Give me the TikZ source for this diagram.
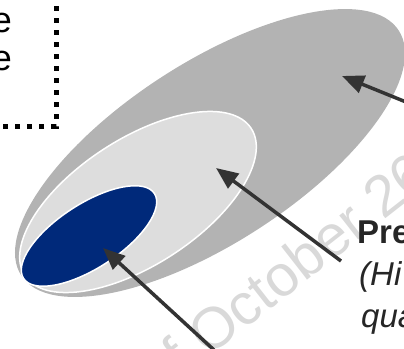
\documentclass[tikz,border=0pt]{standalone}
\usepackage{fontspec}
\setmainfont{Liberation Sans}
\usetikzlibrary{shapes.geometric,arrows.meta}
\definecolor{biggray}{HTML}{B3B3B3}
\definecolor{lightgraytwo}{HTML}{DDDDDD}
\definecolor{navytwo}{HTML}{00297A}
\definecolor{arrowgray}{HTML}{333333}
\definecolor{wmgray}{HTML}{D9D9D9}
\definecolor{textdark}{HTML}{262626}
\begin{document}
\begin{tikzpicture}[x=1pt,y=-1pt,
  ell/.style={ellipse, inner sep=0pt, rotate=33},
  ptr/.style={draw=arrowgray, line width=3.5pt, -{Triangle[length=22pt,width=18pt]}},
  lbl/.style={inner sep=0pt, text=textdark, anchor=base west},
  dotbox/.style={draw=black, line width=5pt, dash pattern=on 5pt off 7pt},
]
\useasboundingbox (0,0) rectangle (404,348);
\clip (0,0) rectangle (404,348);
% ellipses
\node[ell, fill=biggray, minimum width=450pt, minimum height=180pt] (outer) at (210,153) {};
\node[ell, fill=lightgraytwo, draw=white, line width=1.5pt, minimum width=270pt, minimum height=126pt] (middle) at (138,202) {};
\node[ell, fill=navytwo, draw=white, line width=1.5pt, minimum width=156pt, minimum height=64pt] (inner) at (89,236) {};
% watermark
\node[rotate=38, text=wmgray, font=\fontsize{58}{62}\selectfont, inner sep=0pt] (wm) at (283,273) {of October 26};
% dotted box
\coordinate (boxtop) at (56,-6);
\coordinate (boxcorner) at (56,126);
\coordinate (boxleft) at (-6,126);
\draw[dotbox] (boxtop) -- (boxcorner) -- (boxleft);
% left text
\node[anchor=base east, inner sep=0pt, font=\fontsize{36}{40}\selectfont] (e1) at (12,32) {e};
\node[anchor=base east, inner sep=0pt, font=\fontsize{36}{40}\selectfont] (e2) at (12,70) {e};
% right text
\node[lbl, font=\fontsize{33}{38}\selectfont\bfseries] (pre) at (357,243) {Pre};
\node[lbl, font=\fontsize{33}{38}\selectfont\itshape] (hi) at (359,285) {(Hi};
\node[lbl, font=\fontsize{33}{38}\selectfont\itshape] (qua) at (361,327) {qua};
% arrows
\coordinate (t1) at (406,102);
\coordinate (h1) at (342,76);
\coordinate (t2) at (341,261);
\coordinate (h2) at (216,168);
\coordinate (t3) at (214,350);
\coordinate (h3) at (103,248);
\draw[ptr] (t1) -- (h1);
\draw[ptr] (t2) -- (h2);
\draw[ptr] (t3) -- (h3);
\end{tikzpicture}
\end{document}
